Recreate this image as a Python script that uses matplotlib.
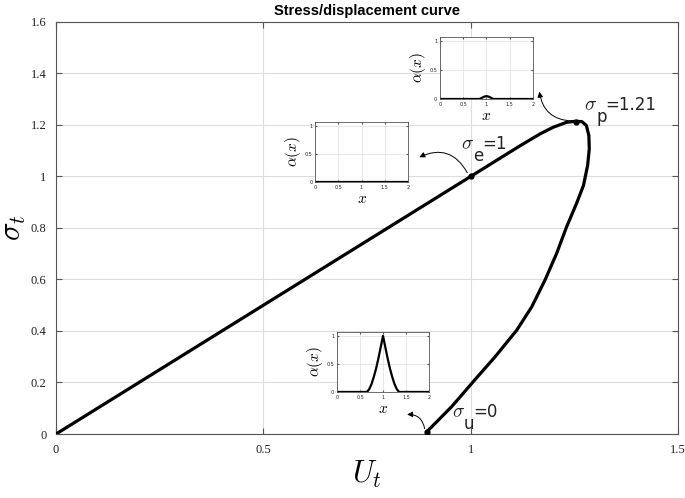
import numpy as np
import matplotlib
matplotlib.use("Agg")
import matplotlib.pyplot as plt
from matplotlib.patches import FancyArrowPatch

plt.rcParams['mathtext.fontset'] = 'cm'

# stress / displacement path
u_t = [0.0, 0.5, 1.0, 1.119, 1.167, 1.199, 1.231, 1.251, 1.268, 1.279, 1.285,
       1.286, 1.282, 1.272, 1.255, 1.231, 1.207, 1.179, 1.147, 1.111, 1.059,
       1.006, 0.954, 0.895]
s_t = [0.0, 0.5, 1.0, 1.119, 1.165, 1.191, 1.210, 1.214, 1.213, 1.198, 1.159,
       1.107, 1.043, 0.965, 0.894, 0.803, 0.700, 0.597, 0.493, 0.403, 0.300,
       0.203, 0.106, 0.010]

# marked states
pt_u = [1.0, 1.255, 0.895]
pt_s = [1.0, 1.210, 0.008]
pt_sub = ['e', 'p', 'u']
pt_val = ['1', '1.21', '0']
# label anchors (left / baseline of the sigma)
lab_u = [0.977, 1.274, 0.955]
lab_s = [1.105, 1.257, 0.066]

# damage profiles alpha(x) for the three insets
x_prof = [0.0, 0.6, 0.65, 0.7, 0.75, 0.8, 0.85, 0.9, 0.95, 1.0,
          1.05, 1.1, 1.15, 1.2, 1.25, 1.3, 1.35, 1.4, 2.0]
alpha_p = [0, 0, 0, 0, 0, 0, 0.0, 0.02, 0.04, 0.05,
           0.04, 0.02, 0.0, 0, 0, 0, 0, 0, 0]
alpha_e = [0] * len(x_prof)
alpha_u = [0, 0, 0, 0.05, 0.14, 0.27, 0.42, 0.60, 0.80, 1.0,
           0.80, 0.60, 0.42, 0.27, 0.14, 0.05, 0, 0, 0]

fig = plt.figure(figsize=(6.85, 4.98), dpi=100)
ax = fig.add_axes([0.0818, 0.1285, 0.908, 0.8275])

grey = '#555555'
ax.plot(u_t, s_t, color='black', lw=2.3, solid_joinstyle='round',
        solid_capstyle='round', zorder=3)
ax.plot(pt_u, pt_s, 'o', color='black', ms=3.5, zorder=4)

ax.set_xlim(0, 1.5)
ax.set_ylim(0, 1.6)
ax.set_xticks([0, 0.5, 1, 1.5])
ax.set_xticklabels(['0', '0.5', '1', '1.5'])
ax.set_yticks([0, 0.2, 0.4, 0.6, 0.8, 1, 1.2, 1.4, 1.6])
ax.set_yticklabels(['0', '0.2', '0.4', '0.6', '0.8', '1', '1.2', '1.4', '1.6'])
ax.tick_params(direction='in', colors=grey, labelcolor='#222222', labelsize=9,
               top=True, right=True, length=4, pad=7)
for lab in ax.get_xticklabels() + ax.get_yticklabels():
    lab.set_family('Liberation Serif')
for s in ax.spines.values():
    s.set_color(grey)
    s.set_linewidth(0.8)
ax.grid(True, color='#dddddd', lw=0.8)
ax.set_axisbelow(True)

ax.set_title('Stress/displacement curve', fontsize=10.5, fontweight='bold',
             family='Liberation Sans', pad=5)
ax.set_xlabel(r'$U_t$', fontsize=22, labelpad=2)
ax.set_ylabel(r'$\sigma_t$', fontsize=22, labelpad=2)

# labels of the marked states: sigma, dropped subscript, value
lab_kw = dict(color='#222222', va='baseline', ha='left',
              textcoords='offset pixels', family='DejaVu Sans')
for lx, ly, sub, val in zip(lab_u, lab_s, pt_sub, pt_val):
    ax.annotate(r'$\sigma$', (lx, ly), xytext=(0, 0), fontsize=14, **lab_kw)
    ax.annotate(sub, (lx, ly), xytext=(12, -12), fontsize=12, **lab_kw)
    ax.annotate('=' + val, (lx, ly), xytext=(21, 0), fontsize=12, **lab_kw)

# insets
insets = [
    ([0.6423, 0.8012, 0.1358, 0.1245], alpha_p),
    ([0.4599, 0.6345, 0.1358, 0.1205], alpha_e),
    ([0.4920, 0.2129, 0.1343, 0.1205], alpha_u),
]
for rect, prof in insets:
    ia = fig.add_axes(rect, zorder=2)
    ia.plot(x_prof, prof, color='black', lw=1.6)
    ia.set_xlim(0, 2)
    ia.set_ylim(0, 1.07)
    ia.set_xticks([0, 0.5, 1, 1.5, 2])
    ia.set_xticklabels(['0', '0.5', '1', '1.5', '2'])
    ia.set_yticks([0, 0.5, 1])
    ia.set_yticklabels(['0', '0.5', '1'])
    ia.tick_params(direction='in', labelsize=3.5, length=1.5, pad=2, colors='#555555',
                   labelcolor='#222222', top=True, right=True)
    ia.grid(True, color='#e3e3e3', lw=0.6)
    for s in ia.spines.values():
        s.set_color('#555555')
        s.set_linewidth(0.6)
    ia.set_xlabel(r'$x$', fontsize=11, labelpad=1)
    ia.set_ylabel(r'$\alpha(x)$', fontsize=11, labelpad=1)

# curved arrows from the states to their insets
arrows = [
    ((1.25, 1.215), (1.165, 1.34), 'arc3,rad=-0.45'),
    ((0.995, 1.005), (0.87, 1.07), 'arc3,rad=0.5'),
    ((0.89, 0.01), (0.84, 0.075), 'arc3,rad=0.5'),
]
for start, end, cs in arrows:
    fig.add_artist(FancyArrowPatch(start, end, transform=ax.transData,
                                   connectionstyle=cs, arrowstyle='-|>',
                                   mutation_scale=8, lw=0.7, color='black',
                                   zorder=5))

fig.savefig('out.png', dpi=100)
